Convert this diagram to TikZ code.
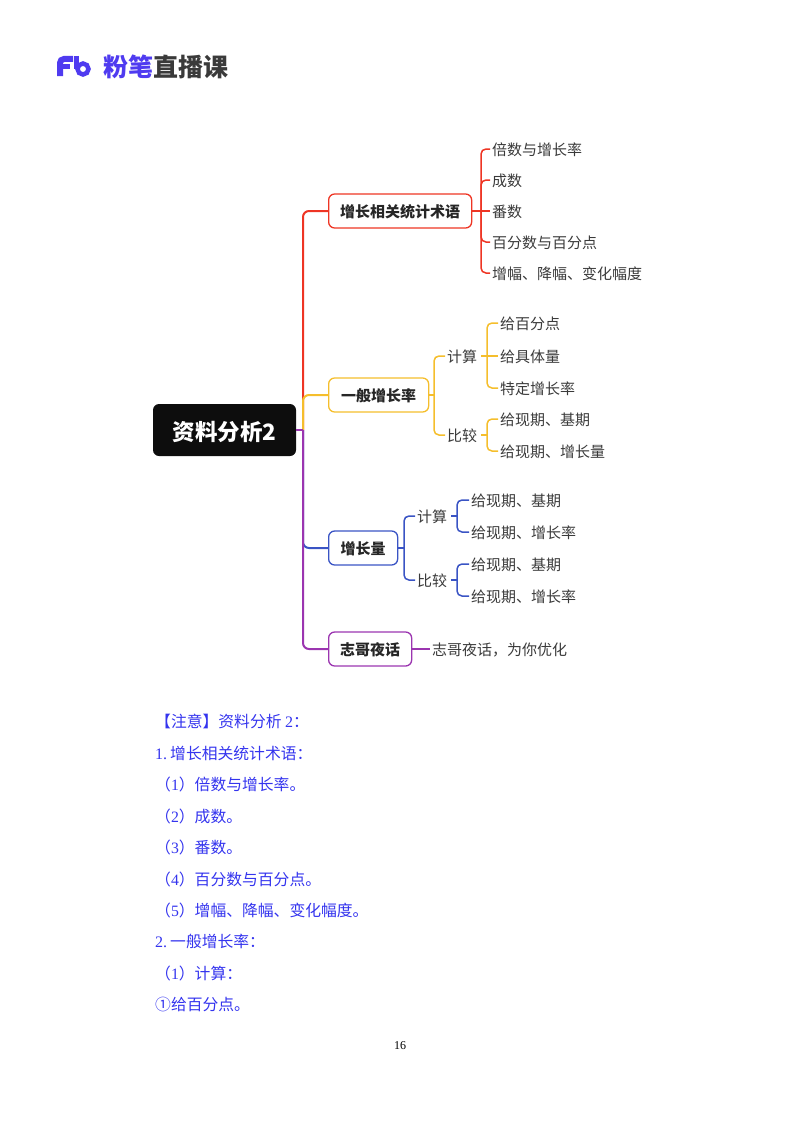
\documentclass[tikz,border=0pt]{standalone}
\usepackage{fontspec}
\setmainfont{Liberation Serif}
\newfontfamily\cjk{Noto Sans CJK SC}
\usepackage{tikz}

\definecolor{fbblue}{HTML}{4F3BF0}
\definecolor{fbdark}{HTML}{3A3A3A}
\definecolor{noteblue}{HTML}{3434EE}
\definecolor{brred}{HTML}{EE3524}
\definecolor{bryellow}{HTML}{F5BE2C}
\definecolor{brblue}{HTML}{3A54C4}
\definecolor{brpurple}{HTML}{9B35B0}

\tikzset{
  leaf/.style={anchor=west, inner xsep=2pt, inner ysep=0pt, text=fbdark, text height=13pt, text depth=1pt, font=\cjk\fontsize{15}{18}\selectfont},
  topic/.style={draw=#1, line width=1.3pt, rounded corners=6pt, minimum height=34pt, inner xsep=0pt, anchor=west, text=black!85, text height=13pt, text depth=1pt, font=\cjk\bfseries\fontsize{15}{18}\selectfont},
  branch/.style={draw=#1, line width=2pt, rounded corners=6pt},
  twig/.style={draw=#1, line width=1.5pt, rounded corners=5pt},
  note/.style={anchor=west, inner sep=0pt, text=noteblue, font=\cjk\fontsize{15.8}{18}\selectfont},
}
\newcommand{\numdot}[1]{\makebox[15pt][l]{\rmfamily\fontsize{16}{18}\selectfont #1.}}

\begin{document}
\begin{tikzpicture}[x=1pt, y=-1pt]
      \useasboundingbox (0,0) rectangle (800,1132);

      % logo
      \draw[fbblue, line width=6pt, rounded corners=4pt] (60,76) -- (60,59) -- (73,59);
      \draw[fbblue, line width=4.5pt]                    (60,66.5) -- (70,66.5);
      \draw[fbblue, line width=5pt]                      (76.5,56) -- (76.5,69);
      \draw[fbblue, line width=4.5pt]                    (83,69) circle (5.5);
      \node[anchor=west, inner sep=0pt, text=fbblue, font=\cjk\bfseries\fontsize{25}{26}\selectfont] (logoa) at (103,67) {粉笔};
      \node[anchor=west, inner sep=0pt, text=fbdark, font=\cjk\bfseries\fontsize{25}{26}\selectfont] (logob) at (logoa.east) {直播课};

      % root
      \node[fill=black!95, text=white, rounded corners=6pt, minimum width=143pt, minimum height=52pt, text height=20pt, text depth=0pt, font=\cjk\bfseries\fontsize{22.5}{28}\selectfont]
                                 (root) at (224.5,430) {资料分析2};
      \coordinate                (trunk) at (303,430);

      % topics
      \node[topic=brred, minimum width=143pt]    (term)   at (328,211) {增长相关统计术语};
      \node[topic=bryellow, minimum width=100pt] (rate)   at (328,395) {一般增长率};
      \node[topic=brblue, minimum width=69pt]    (amount) at (328,548) {增长量};
      \node[topic=brpurple, minimum width=83pt]  (talk)   at (328,649) {志哥夜话};

      % 增长相关统计术语
      \node[leaf] (t1) at (490,149) {倍数与增长率};
      \node[leaf] (t2) at (490,180) {成数};
      \node[leaf] (t3) at (490,211) {番数};
      \node[leaf] (t4) at (490,242) {百分数与百分点};
      \node[leaf] (t5) at (490,273) {增幅、降幅、变化幅度};
      \coordinate (tb) at (481,211);
      \draw[twig=brred] (term.east) -- (t3.west);
      \draw[twig=brred] (tb) |- (t1.west);
      \draw[twig=brred] (tb) |- (t2.west);
      \draw[twig=brred] (tb) |- (t4.west);
      \draw[twig=brred] (tb) |- (t5.west);

      % 一般增长率
      \node[leaf] (rc)  at (445,356) {计算};
      \node[leaf] (rb)  at (445,435) {比较};
      \node[leaf] (rc1) at (498,323) {给百分点};
      \node[leaf] (rc2) at (498,356) {给具体量};
      \node[leaf] (rc3) at (498,388) {特定增长率};
      \node[leaf] (rb1) at (498,419) {给现期、基期};
      \node[leaf] (rb2) at (498,451) {给现期、增长量};
      \coordinate (rj)  at (434,395);
      \coordinate (rcj) at (487,356);
      \coordinate (rbj) at (487,435);
      \draw[twig=bryellow] (rate.east) -- (rj);
      \draw[twig=bryellow] (rj) |- (rc.west);
      \draw[twig=bryellow] (rj) |- (rb.west);
      \draw[twig=bryellow, shorten <=2pt] (rc.east) -- (rc2.west);
      \draw[twig=bryellow] (rcj) |- (rc1.west);
      \draw[twig=bryellow] (rcj) |- (rc3.west);
      \draw[twig=bryellow, shorten <=2pt] (rb.east) -- (rbj);
      \draw[twig=bryellow] (rbj) |- (rb1.west);
      \draw[twig=bryellow] (rbj) |- (rb2.west);

      % 增长量
      \node[leaf] (ac)  at (415,516) {计算};
      \node[leaf] (ab)  at (415,580) {比较};
      \node[leaf] (ac1) at (469,500) {给现期、基期};
      \node[leaf] (ac2) at (469,532) {给现期、增长率};
      \node[leaf] (ab1) at (469,564) {给现期、基期};
      \node[leaf] (ab2) at (469,596) {给现期、增长率};
      \coordinate (aj)  at (404,548);
      \coordinate (acj) at (457,516);
      \coordinate (abj) at (457,580);
      \draw[twig=brblue] (amount.east) -- (aj);
      \draw[twig=brblue] (aj) |- (ac.west);
      \draw[twig=brblue] (aj) |- (ab.west);
      \draw[twig=brblue, shorten <=2pt] (ac.east) -- (acj);
      \draw[twig=brblue] (acj) |- (ac1.west);
      \draw[twig=brblue] (acj) |- (ac2.west);
      \draw[twig=brblue, shorten <=2pt] (ab.east) -- (abj);
      \draw[twig=brblue] (abj) |- (ab1.west);
      \draw[twig=brblue] (abj) |- (ab2.west);

      % 志哥夜话
      \node[leaf] (k1) at (430,649) {志哥夜话，为你优化};
      \draw[branch=brpurple] (talk.east) -- (k1.west);

      % trunk
      \draw[branch=brred]    (trunk) |- (term.west);
      \draw[branch=bryellow] (trunk) |- (rate.west);
      \draw[branch=brblue]   (trunk) |- (amount.west);
      \draw[branch=brpurple] (trunk) |- (talk.west);
      \draw[branch=brpurple] (root.east) -- (trunk);

      % notes
      \node[note] (n1)  at (155,721.5)  {【注意】资料分析 {\rmfamily\fontsize{16}{18}\selectfont 2}：};
      \node[note] (n2)  at (155,753.5)  {\numdot{1}增长相关统计术语：};
      \node[note] (n3)  at (155,784.5)  {（{\rmfamily 1}）倍数与增长率。};
      \node[note] (n4)  at (155,816.5)  {（{\rmfamily 2}）成数。};
      \node[note] (n5)  at (155,847.5)  {（{\rmfamily 3}）番数。};
      \node[note] (n6)  at (155,879.5)  {（{\rmfamily 4}）百分数与百分点。};
      \node[note] (n7)  at (155,910.5)  {（{\rmfamily 5}）增幅、降幅、变化幅度。};
      \node[note] (n8)  at (155,941.5)  {\numdot{2}一般增长率：};
      \node[note] (n9)  at (155,973.5)  {（{\rmfamily 1}）计算：};
      \node[note] (n10) at (155,1004.5) {①给百分点。};

      % page number
      \node[font=\fontsize{12}{14}\selectfont] (page) at (400,1045.5) {16};
    \end{tikzpicture}
\end{document}
